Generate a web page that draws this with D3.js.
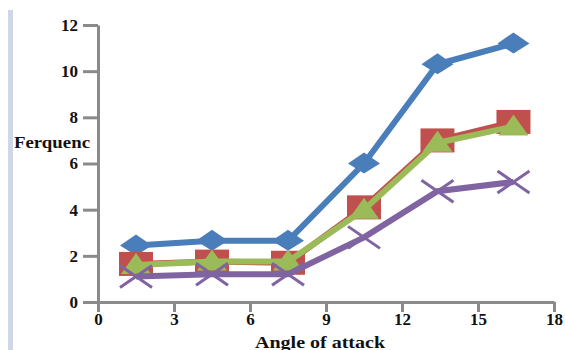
<!DOCTYPE html>
<html><head><meta charset="utf-8">
<script src="https://cdn.jsdelivr.net/npm/d3@7/dist/d3.min.js"></script>
<style>
body{margin:0;background:#fff;}
svg text{font-family:"Liberation Serif","DejaVu Serif",serif;font-weight:bold;fill:#111;}
</style></head>
<body>
<svg id="c" width="565" height="350"></svg>
<script>
const angles = [1.5, 4.5, 7.5, 10.5, 13.4, 16.4];
const seriesBlue = [2.45, 2.65, 2.65, 6.0, 10.3, 11.2];
const seriesRed = [1.65, 1.75, 1.7, 4.1, 7.0, 7.8];
const seriesGreen = [1.6, 1.75, 1.75, 4.0, 6.9, 7.6];
const seriesPurple = [1.1, 1.2, 1.2, 2.8, 4.8, 5.2];
const xTicks = [0, 3, 6, 9, 12, 15, 18];
const yTicks = [0, 2, 4, 6, 8, 10, 12];
const xTitle = "Angle of attack";
const yTitle = "Ferquenc";

const svg = d3.select("#c");
const x = d3.scaleLinear().domain([0, 18]).range([98, 554]);
const y = d3.scaleLinear().domain([0, 12]).range([302, 25]);

// left decorative bar
svg.append("rect").attr("x", 8).attr("y", 10).attr("width", 5).attr("height", 340).attr("fill", "#cfd7e6");

// axes
const gy = svg.append("g").attr("transform", `translate(${x(0)},0)`)
  .call(d3.axisLeft(y).tickValues(yTicks).tickSizeInner(15).tickSizeOuter(0).tickPadding(5));
const gx = svg.append("g").attr("transform", `translate(0,${y(0)})`)
  .call(d3.axisBottom(x).tickValues(xTicks).tickSizeInner(10).tickSizeOuter(0).tickPadding(3));
[gx, gy].forEach(g => {
  g.select(".domain").attr("stroke", "#8a8a8a").attr("stroke-width", 3);
  g.selectAll(".tick line").attr("stroke", "#8a8a8a").attr("stroke-width", 3);
  g.selectAll(".tick text").style("font-size", "17px").attr("fill", "#111");
});
gx.selectAll(".tick text").attr("dy", "0.6em");

// titles
svg.append("text").attr("x", 14).attr("y", 148).style("font-size", "16px")
  .attr("textLength", 76).attr("lengthAdjust", "spacingAndGlyphs").text(yTitle);
svg.append("text").attr("x", 255).attr("y", 348).style("font-size", "16px")
  .attr("textLength", 130).attr("lengthAdjust", "spacingAndGlyphs").text(xTitle);

const line = d3.line().x(d => x(d[0])).y(d => y(d[1]));
function pts(v){ return angles.map((a,i)=>[a, v[i]]); }

const blue = "#4a7ebb", red = "#c0504d", green = "#9bbb59", purple = "#8064a2";
// blue
svg.append("path").datum(pts(seriesBlue)).attr("d", line).attr("fill","none").attr("stroke", blue).attr("stroke-width", 6).attr("stroke-linejoin","round");
svg.selectAll(".bm").data(pts(seriesBlue)).enter().append("path")
  .attr("d", d => { const cx=x(d[0]), cy=y(d[1]); return `M${cx-16},${cy}L${cx},${cy-11}L${cx+16},${cy}L${cx},${cy+10}Z`; })
  .attr("fill", blue);

// red
svg.append("path").datum(pts(seriesRed)).attr("d", line).attr("fill","none").attr("stroke", red).attr("stroke-width", 6);
svg.selectAll(".rm").data(pts(seriesRed)).enter().append("rect")
  .attr("x", d => x(d[0]) - 17).attr("y", d => y(d[1]) - 12).attr("width", 34).attr("height", 24).attr("fill", red);

// green
svg.append("path").datum(pts(seriesGreen)).attr("d", line).attr("fill","none").attr("stroke", green).attr("stroke-width", 6);
svg.selectAll(".gm").data(pts(seriesGreen)).enter().append("path")
  .attr("d", d => { const cx=x(d[0]), cy=y(d[1]); return `M${cx},${cy-12}L${cx+15},${cy+9}L${cx-15},${cy+9}Z`; })
  .attr("fill", green);

// purple
svg.append("path").datum(pts(seriesPurple)).attr("d", line).attr("fill","none").attr("stroke", purple).attr("stroke-width", 6);
svg.selectAll(".pm").data(pts(seriesPurple)).enter().append("path")
  .attr("d", d => { const cx=x(d[0]), cy=y(d[1]); return `M${cx-16},${cy-11}L${cx+16},${cy+11}M${cx+16},${cy-11}L${cx-16},${cy+11}`; })
  .attr("stroke", purple).attr("stroke-width", 3).attr("fill","none");
</script>
</body></html>
